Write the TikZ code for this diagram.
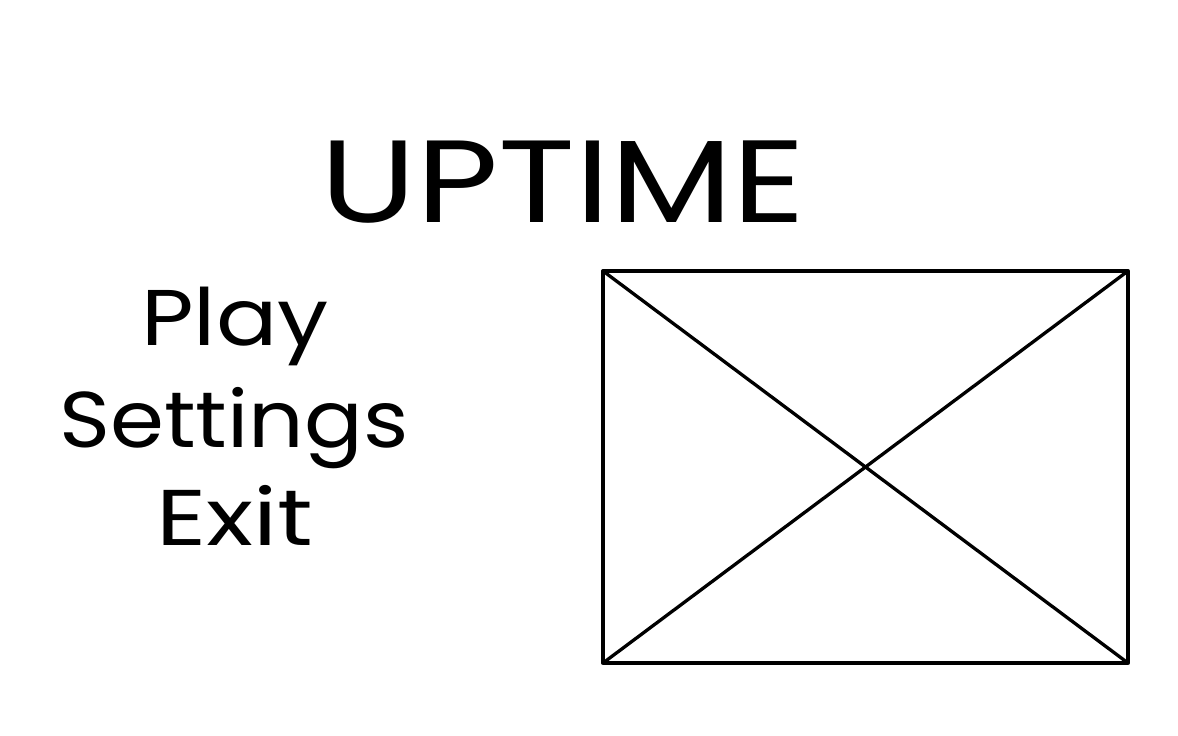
\documentclass[tikz,border=0pt]{standalone}
\usepackage{fontspec}
\setmainfont{Poppins}
\begin{document}
\begin{tikzpicture}[x=1pt,y=-1pt,
  frame/.style={line width=3.3pt,line join=round,line cap=round},
  title/.style={inner sep=0pt,anchor=base,font=\fontsize{117}{120}\selectfont},
  menu/.style={inner sep=0pt,anchor=base,font=\fontsize{79}{82}\selectfont}]
\useasboundingbox[fill=white] (0,0) rectangle (1178,736);
\node[title,xscale=1.216] (t) at (563,222) {UPTIME};
\node[menu,xscale=1.15] (play) at (235,345) {Play};
\node[menu,xscale=1.10] (set) at (234,447) {Settings};
\node[menu,xscale=1.24] (exit) at (235,545) {Exit};
\coordinate (tl) at (603,271);
\coordinate (tr) at (1128,271);
\coordinate (bl) at (603,663);
\coordinate (br) at (1128,663);
\draw[frame] (tl) -- (tr) -- (br) -- (bl) -- cycle;
\draw[frame] (tl) -- (br);
\draw[frame] (tr) -- (bl);
\end{tikzpicture}
\end{document}
